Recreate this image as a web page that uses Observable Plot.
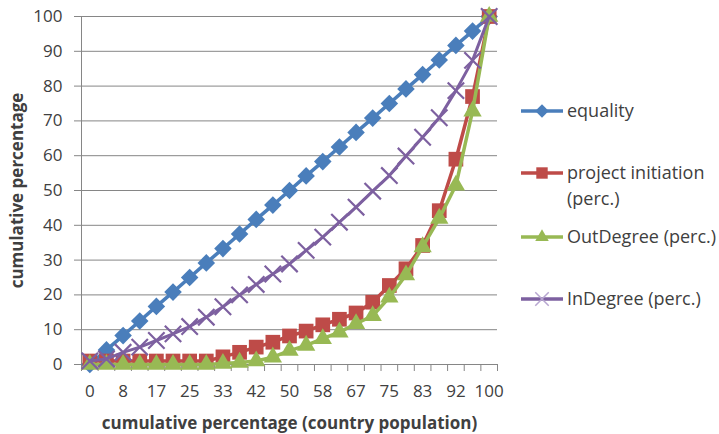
<!DOCTYPE html>
<html>
<head>
<meta charset="utf-8">
<script src="https://cdn.jsdelivr.net/npm/d3@7"></script>
<script src="https://cdn.jsdelivr.net/npm/@observablehq/plot@0.6"></script>
<style>
  body { margin: 0; background: #fff; }
  #wrap { position: relative; width: 719px; height: 434px; font-family: "Open Sans", sans-serif; }
  #legend { position: absolute; left: 0; top: 0; pointer-events: none; }
</style>
</head>
<body>
<div id="wrap"></div>
<script>
// Category labels along the x axis (cumulative share of country population)
const xLabels = ["0","4","8","13","17","21","25","29","33","38","42","46","50",
                 "54","58","63","67","71","75","79","83","88","92","96","100"];
const yTicks = [0, 10, 20, 30, 40, 50, 60, 70, 80, 90, 100];

// Cumulative percentages per series
const equality = [0, 4.2, 8.3, 12.5, 16.7, 20.8, 25, 29.2, 33.3, 37.5, 41.7, 45.8, 50,
                  54.2, 58.3, 62.5, 66.7, 70.8, 75, 79.2, 83.3, 87.5, 91.7, 95.8, 100];
const projectInitiation = [1, 1, 1, 1, 1, 1, 1, 1, 2.2, 3.5, 5, 6.4, 8.2,
                           9.6, 11.4, 13, 14.8, 17.9, 22.7, 27.5, 34.2, 44.2, 59, 77, 100];
const outDegree = [0, 0, 0, 0, 0, 0, 0, 0, 0.3, 0.6, 1, 2.1, 4,
                   5.5, 7.4, 9.3, 11.7, 14, 19.3, 25.7, 33.8, 42, 51.5, 72.8, 100];
const inDegree = [1, 1.6, 3.5, 5, 6.9, 8.8, 10.9, 13.6, 16.6, 20, 23, 26, 28.9,
                  32.8, 36.6, 40.9, 45.2, 49.8, 54.3, 59.9, 65.3, 70.9, 78.7, 87.4, 100];

const seriesNames = ["equality", "project initiation (perc.)", "OutDegree (perc.)", "InDegree (perc.)"];
const seriesValues = [equality, projectInitiation, outDegree, inDegree];
const colors = ["#4A7EBB", "#BE4B48", "#98B954", "#7D60A0"];

// Square rotated 45°, drawn as a diamond with equal diagonals
const diamond = {
  draw(ctx, size) {
    const r = Math.sqrt(size / 2);
    ctx.moveTo(0, -r); ctx.lineTo(r, 0); ctx.lineTo(0, r); ctx.lineTo(-r, 0); ctx.closePath();
  }
};

const markerStyle = [
  {symbol: diamond, r: 7, fill: colors[0], stroke: "none"},
  {symbol: "square", r: 8.3, fill: colors[1], stroke: "none"},
  {symbol: "triangle", r: 6.8, fill: colors[2], stroke: "none"},
  {symbol: "times", r: 7.5, fill: "none", stroke: colors[3], strokeWidth: 2.2}
];
const lineWidths = [3.5, 3.5, 3.5, 3];

const tables = seriesValues.map((vals, s) =>
  vals.map((v, i) => ({series: seriesNames[s], i, value: v})));

const labeledIdx = xLabels.map((_, i) => i).filter(i => i % 2 === 0);
const tickBetween = d3.range(-0.5, xLabels.length, 1);
const gray = "#868686";
const textColor = "#404040";

const marks = [
  Plot.gridY(yTicks, {stroke: gray, strokeOpacity: 1, strokeWidth: 1}),
  Plot.ruleX([-0.5], {stroke: gray}),
  Plot.ruleY([0], {stroke: gray}),
  Plot.axisY(yTicks, {tickSize: 7, tickPadding: 12, stroke: gray, fontSize: 17, label: null}),
  Plot.axisX(tickBetween, {tickSize: 7, tickFormat: () => "", stroke: gray, label: null}),
  Plot.axisX(labeledIdx, {tickSize: 0, tickPadding: 20, fontSize: 17, tickFormat: i => xLabels[i], label: null}),
  Plot.text(["cumulative percentage"], {frameAnchor: "left", rotate: -90, dx: -64,
    textAnchor: "middle", lineAnchor: "middle", fontWeight: "bold", fontSize: 17}),
  Plot.text(["cumulative percentage (country population)"], {frameAnchor: "bottom", dy: 59,
    textAnchor: "middle", lineAnchor: "middle", fontWeight: "bold", fontSize: 17})
];
tables.forEach((t, s) => {
  marks.push(Plot.line(t, {x: "i", y: "value", stroke: colors[s], strokeWidth: lineWidths[s]}));
  marks.push(Plot.dot(t, {x: "i", y: "value", ...markerStyle[s]}));
});

const chart = Plot.plot({
  width: 719,
  height: 434,
  marginLeft: 81,
  marginRight: 222,
  marginTop: 16,
  marginBottom: 70,
  style: {fontFamily: "Open Sans, sans-serif", fontSize: "17px", color: textColor, background: "#fff"},
  x: {type: "linear", domain: [-0.5, xLabels.length - 0.5]},
  y: {domain: [0, 100]},
  marks
});
const wrap = document.getElementById("wrap");
wrap.appendChild(chart);

// Legend on the right: line swatch with marker, then series name
const legend = d3.select(wrap).append("svg")
  .attr("id", "legend").attr("width", 719).attr("height", 434)
  .style("font-family", "Open Sans, sans-serif").style("font-size", "18px");
const legendRows = [
  {y: 111, lines: ["equality"]},
  {y: 173, lines: ["project initiation", "(perc.)"]},
  {y: 237, lines: ["OutDegree (perc.)"]},
  {y: 299, lines: ["InDegree (perc.)"]}
];
legendRows.forEach((row, s) => {
  const g = legend.append("g").attr("transform", `translate(0,${row.y})`);
  g.append("line").attr("x1", 521).attr("x2", 563).attr("y1", 0).attr("y2", 0)
    .attr("stroke", colors[s]).attr("stroke-width", 3.5);
  const sym = s === 0 ? diamond : s === 1 ? d3.symbolSquare : s === 2 ? d3.symbolTriangle : d3.symbolTimes;
  const size = s === 0 ? 90 : s === 1 ? 130 : s === 2 ? 80 : 120;
  g.append("path").attr("transform", "translate(542,0)")
    .attr("d", d3.symbol(sym, size)())
    .attr("fill", s === 3 ? "none" : colors[s])
    .attr("stroke", s === 3 ? "#B7A6D0" : "none")
    .attr("stroke-width", 1.5);
  row.lines.forEach((t, k) => {
    g.append("text").attr("x", 567).attr("y", k * 26).attr("dy", "0.35em")
      .attr("fill", textColor).text(t);
  });
});
</script>
</body>
</html>
